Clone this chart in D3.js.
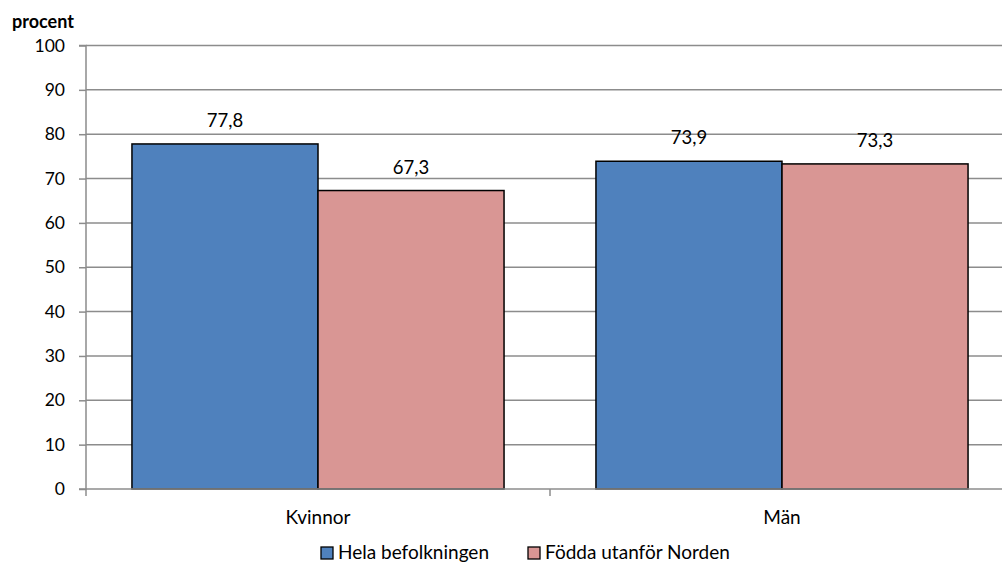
<!DOCTYPE html>
<html><head><meta charset="utf-8">
<script src="https://cdn.jsdelivr.net/npm/d3@7"></script>
<style>
body{margin:0;background:#fff;}
svg{display:block;font-family:Lato,"Open Sans",sans-serif;}
</style></head>
<body>
<svg id="c" width="1002" height="563"></svg>
<script>
const categories = ["Kvinnor", "Män"];
const seriesNames = ["Hela befolkningen", "Födda utanför Norden"];
const helaBefolkningen = [77.8, 73.9];
const foddaUtanforNorden = [67.3, 73.3];
const yTicks = [0,10,20,30,40,50,60,70,80,90,100];
const colors = ["#4F81BD", "#D99694"];
const seriesValues = [helaBefolkningen, foddaUtanforNorden];

(function(){
const svg = d3.select("#c");
const pl = 86, pr = 1014, pt = 45.5, pb = 489;
const x = d3.scaleBand().domain(categories).range([pl, pr]).paddingInner(0).paddingOuter(0);
const y = d3.scaleLinear().domain([0,100]).range([pb, pt]);
const inner = d3.scaleBand().domain(seriesNames).range([0, x.bandwidth()]).paddingInner(0).paddingOuter(0.247);

svg.append("g").selectAll("line").data(yTicks.filter(d=>d>0)).join("line")
  .attr("x1", pl).attr("x2", pr)
  .attr("y1", d=>y(d)).attr("y2", d=>y(d))
  .attr("stroke", "#8c8c8c").attr("stroke-width", 1.5);

const yAxis = d3.axisLeft(y).tickValues(yTicks).tickSize(7).tickPadding(14).tickFormat(d3.format("d"));
const gy = svg.append("g").attr("transform", `translate(${pl},0)`).call(yAxis);
gy.select(".domain").attr("stroke", "#8c8c8c").attr("stroke-width", 1.5).attr("d", `M-7,${pt}H0V${pb}H-7`);
gy.selectAll(".tick line").attr("stroke", "#8c8c8c").attr("stroke-width", 1.5);
gy.selectAll(".tick text").attr("font-size", 17.5).attr("fill", "#000").style("font-family", "Lato, sans-serif");

const groups = svg.append("g").selectAll("g").data(categories).join("g")
  .attr("transform", d=>`translate(${x(d)},0)`);
groups.selectAll("rect").data((c,i)=>seriesNames.map((s,j)=>({s, v: seriesValues[j][i], j}))).join("rect")
  .attr("x", d=>inner(d.s)).attr("width", inner.bandwidth())
  .attr("y", d=>y(d.v)).attr("height", d=>pb - y(d.v))
  .attr("fill", d=>colors[d.j]).attr("stroke", "#000").attr("stroke-width", 1.5);
groups.selectAll("text.val").data((c,i)=>seriesNames.map((s,j)=>({s, v: seriesValues[j][i], j}))).join("text")
  .attr("class","val")
  .attr("x", d=>inner(d.s)+inner.bandwidth()/2).attr("y", d=>y(d.v)-17)
  .attr("text-anchor","middle").attr("font-size", 18.5).attr("fill","#000")
  .text(d=>d3.format(".1f")(d.v).replace(".", ","));

const xAxis = d3.axisBottom(x).tickSize(0).tickPadding(0);
const gx = svg.append("g").attr("transform", `translate(0,${pb})`).call(xAxis);
gx.select(".domain").attr("stroke", "#8c8c8c").attr("stroke-width", 1.5).attr("d", `M${pl},0H${pr}`);
gx.selectAll(".tick text").attr("font-size", 19).attr("fill","#000").attr("dy", 35).style("font-family", "Lato, sans-serif");
svg.append("g").selectAll("line").data([pl, x(categories[1])]).join("line")
  .attr("x1", d=>d).attr("x2", d=>d).attr("y1", pb).attr("y2", pb+7)
  .attr("stroke", "#8c8c8c").attr("stroke-width", 1.5);

svg.append("text").attr("x", 12).attr("y", 28).attr("font-size", 18).attr("font-weight", "bold").text("procent");

const legX = [321, 528];
const lg = svg.append("g").selectAll("g").data(seriesNames).join("g")
  .attr("transform", (d,i)=>`translate(${legX[i]},547)`);
lg.append("rect").attr("width", 12).attr("height", 12).attr("fill", (d,i)=>colors[i]).attr("stroke","#000").attr("stroke-width",1.3);
lg.append("text").attr("x", 17).attr("y", 12).attr("font-size", 19).text(d=>d);
})();
</script>
</body></html>
